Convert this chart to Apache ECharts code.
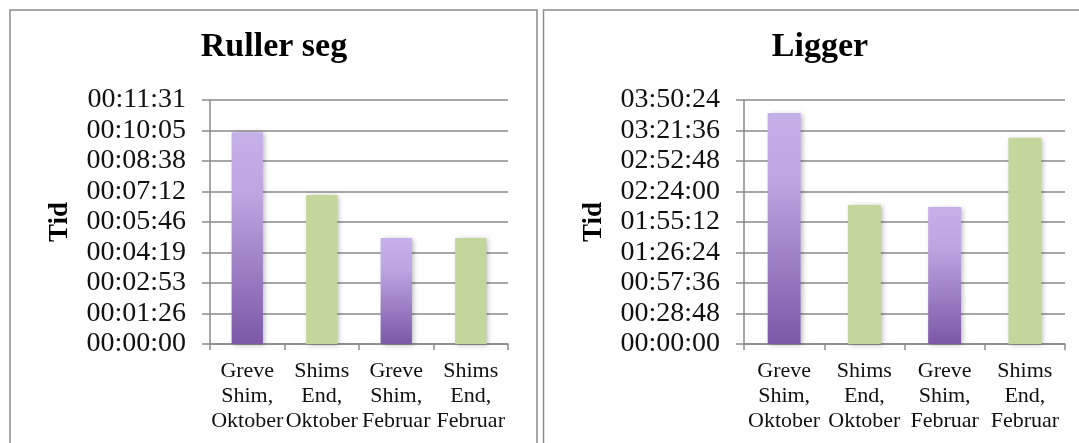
<!DOCTYPE html>
<html>
<head>
<meta charset="utf-8">
<script src="https://cdn.jsdelivr.net/npm/echarts@6/dist/echarts.min.js"></script>
<style>
  html, body { margin: 0; padding: 0; background: #ffffff; }
  #chart { width: 1079px; height: 443px; }
</style>
</head>
<body>
<div id="chart"></div>
<script>
// Categories shared by both panels
const categories = [
  'Greve\nShim,\nOktober',
  'Shims\nEnd,\nOktober',
  'Greve\nShim,\nFebruar',
  'Shims\nEnd,\nFebruar'
];

// Durations in seconds
const rullerSegSeconds = [600, 422, 300, 300];
const liggerSeconds = [13088, 7875, 7762, 11688];

// Value-axis steps (seconds) and tick counts
const rullerSegStep = 86.4;   // 00:01:26.4
const liggerStep = 1728;      // 00:28:48
const tickCount = 8;

const FONT = '"Liberation Serif", "Times New Roman", serif';
const GRID_GREY = '#8a8a8a';

function hms(sec) {
  const s = Math.round(sec);
  const h = Math.floor(s / 3600);
  const m = Math.floor((s % 3600) / 60);
  const r = s % 60;
  const p = n => String(n).padStart(2, '0');
  return p(h) + ':' + p(m) + ':' + p(r);
}

const purpleFill = new echarts.graphic.LinearGradient(0, 0, 0, 1, [
  { offset: 0, color: '#c6b0ea' },
  { offset: 0.3, color: '#bca5e1' },
  { offset: 1, color: '#7c58a7' }
]);
const greenFill = '#c3d69b';

function barData(values) {
  return values.map((v, i) => ({
    value: v,
    itemStyle: { color: i % 2 === 0 ? purpleFill : greenFill }
  }));
}

function xAxisFor(gridIndex) {
  return {
    type: 'category',
    gridIndex: gridIndex,
    data: categories,
    axisLine: { show: true, lineStyle: { color: GRID_GREY, width: 1.5 } },
    axisTick: { show: true, length: 6, alignWithLabel: false, lineStyle: { color: GRID_GREY, width: 1.5 } },
    axisLabel: {
      interval: 0,
      hideOverlap: false,
      margin: 15,
      color: '#111',
      fontFamily: FONT,
      fontSize: 22,
      lineHeight: 25
    }
  };
}

function yAxisFor(gridIndex, step) {
  return {
    type: 'value',
    gridIndex: gridIndex,
    min: 0,
    max: step * tickCount,
    interval: step,
    name: 'Tid',
    nameLocation: 'middle',
    nameGap: 136,
    nameTextStyle: { fontFamily: FONT, fontSize: 27, fontWeight: 'bold', color: '#000' },
    axisLine: { show: true, lineStyle: { color: GRID_GREY, width: 1.5 } },
    axisTick: { show: true, length: 8, lineStyle: { color: GRID_GREY, width: 1.5 } },
    splitLine: { show: true, lineStyle: { color: GRID_GREY, width: 1.5 } },
    axisLabel: {
      margin: 24,
      color: '#111',
      fontFamily: FONT,
      fontSize: 28,
      formatter: v => hms(v)
    }
  };
}

const barShadow = {
  shadowColor: 'rgba(0,0,0,0.28)',
  shadowBlur: 5,
  shadowOffsetX: 2,
  shadowOffsetY: 1
};

const chart = echarts.init(document.getElementById('chart'), null, { renderer: 'canvas' });

chart.setOption({
  animation: false,
  backgroundColor: '#ffffff',
  title: [
    {
      text: 'Ruller seg',
      left: 274, top: 30, textAlign: 'center', padding: 0,
      textStyle: { fontFamily: FONT, fontSize: 34, fontWeight: 'bold', color: '#000' }
    },
    {
      text: 'Ligger',
      left: 820, top: 30, textAlign: 'center', padding: 0,
      textStyle: { fontFamily: FONT, fontSize: 34, fontWeight: 'bold', color: '#000' }
    }
  ],
  graphic: [
    {
      type: 'rect', silent: true, z: -1,
      shape: { x: 10, y: 10, width: 527, height: 460 },
      style: { fill: 'none', stroke: GRID_GREY, lineWidth: 1.5 }
    },
    {
      type: 'rect', silent: true, z: -1,
      shape: { x: 543.5, y: 10, width: 600, height: 460 },
      style: { fill: 'none', stroke: GRID_GREY, lineWidth: 1.5 }
    }
  ],
  grid: [
    { left: 210, top: 100, width: 298, height: 244, containLabel: false },
    { left: 744, top: 100, width: 321, height: 244, containLabel: false }
  ],
  xAxis: [xAxisFor(0), xAxisFor(1)],
  yAxis: [yAxisFor(0, rullerSegStep), yAxisFor(1, liggerStep)],
  series: [
    {
      type: 'bar', xAxisIndex: 0, yAxisIndex: 0,
      barWidth: '42%',
      itemStyle: barShadow,
      data: barData(rullerSegSeconds)
    },
    {
      type: 'bar', xAxisIndex: 1, yAxisIndex: 1,
      barWidth: '41%',
      itemStyle: barShadow,
      data: barData(liggerSeconds)
    }
  ]
});
</script>
</body>
</html>
